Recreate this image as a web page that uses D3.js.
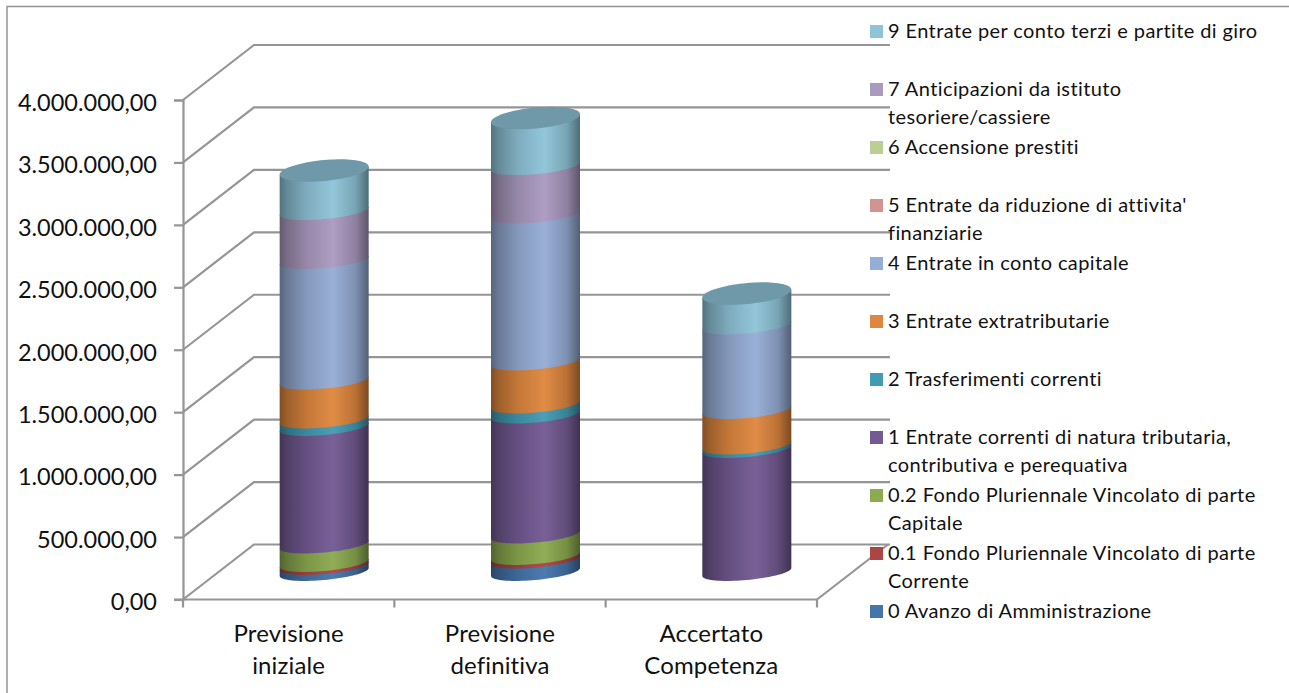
<!DOCTYPE html>
<html>
<head>
<meta charset="utf-8">
<script src="https://cdn.jsdelivr.net/npm/d3@7"></script>
<style>
  html, body { margin: 0; padding: 0; background: #fff; }
  svg { display: block; }
  text { font-family: Lato, "Noto Sans", sans-serif; fill: #111; }
</style>
</head>
<body>
<div id="vis1"></div>
<script>
// frame dimensions
const FRAME_WIDTH = 1289;
const FRAME_HEIGHT = 693;

// front plane of the chart and the depth of the 3d box
const PLOT = {left: 183, right: 817, top: 100, bottom: 599.5};
const DEPTH = {x: 71, y: -55};

// cylinder shape
const RX = 44.5;
const RING_RY = 8;
const CAP_RY = 10.5;
const TILT = 4;

const GRID_COLOR = "#959595";
const CAP_COLOR = "#6f98a8";

// categories
const categories = ["Previsione iniziale", "Previsione definitiva", "Accertato Competenza"];
const categoryLines = [["Previsione", "iniziale"], ["Previsione", "definitiva"], ["Accertato", "Competenza"]];

// series values, one entry per category
const avanzo = [48000, 100000, 0];
const fpvCorrente = [24000, 28000, 0];
const fpvCapitale = [148000, 172000, 0];
const tributarie = [941000, 961000, 985000];
const trasferimenti = [60000, 80000, 28000];
const extratributarie = [312000, 345000, 284000];
const contoCapitale = [965000, 1177000, 677000];
const riduzione = [0, 0, 0];
const prestiti = [0, 0, 0];
const anticipazioni = [392000, 387000, 0];
const contoTerzi = [325000, 385000, 256000];

const seriesValues = [avanzo, fpvCorrente, fpvCapitale, tributarie, trasferimenti,
  extratributarie, contoCapitale, riduzione, prestiti, anticipazioni, contoTerzi];

const seriesColors = ["#4675ac", "#ab4644", "#8caa50", "#735a93", "#439bb3", "#df873f",
  "#96add5", "#d39391", "#b9cf95", "#ab9ac0", "#8fc4d8"];

// legend text, bottom series first
const legendLines = [
  ["0 Avanzo di Amministrazione"],
  ["0.1 Fondo Pluriennale Vincolato di parte", "Corrente"],
  ["0.2 Fondo Pluriennale Vincolato di parte", "Capitale"],
  ["1 Entrate correnti di natura tributaria,", "contributiva e perequativa"],
  ["2 Trasferimenti correnti"],
  ["3 Entrate extratributarie"],
  ["4 Entrate in conto capitale"],
  ["5 Entrate da riduzione di attivita'", "finanziarie"],
  ["6 Accensione prestiti"],
  ["7 Anticipazioni da istituto", "tesoriere/cassiere"],
  ["9 Entrate per conto terzi e partite di giro"]
];

const tickValues = [0, 500000, 1000000, 1500000, 2000000, 2500000, 3000000, 3500000, 4000000];

const FRAME1 = d3.select("#vis1")
  .append("svg")
    .attr("width", FRAME_WIDTH)
    .attr("height", FRAME_HEIGHT);

// scales
const X_SCALE = d3.scaleBand()
  .domain(categories)
  .range([PLOT.left, PLOT.right]);

const Y_SCALE = d3.scaleLinear()
  .domain([0, 4000000])
  .range([PLOT.bottom, PLOT.top]);

// outer frame, only the top and left edges show
FRAME1.append("path")
  .attr("d", "M7,693V6.5H1289")
  .attr("fill", "none")
  .attr("stroke", GRID_COLOR)
  .attr("stroke-width", 1.5);

// side wall and back wall gridlines
FRAME1.selectAll(".grid")
  .data(tickValues)
  .enter()
  .append("path")
    .attr("class", "grid")
    .attr("d", (d) => {
      const y = Y_SCALE(d);
      return d3.line()([[PLOT.left, y], [PLOT.left + DEPTH.x, y + DEPTH.y], [890, y + DEPTH.y]]);
    })
    .attr("fill", "none")
    .attr("stroke", GRID_COLOR)
    .attr("stroke-width", 2.2);

// right edge of the floor
FRAME1.append("path")
  .attr("d", d3.line()([[PLOT.right, PLOT.bottom], [PLOT.right + DEPTH.x, PLOT.bottom + DEPTH.y]]))
  .attr("stroke", GRID_COLOR)
  .attr("stroke-width", 2.2);

// value axis
const fmt = d3.formatLocale({decimal: ",", thousands: ".", grouping: [3], currency: ["", "€"]}).format(",.2f");

const yAxis = FRAME1.append("g")
  .attr("transform", "translate(" + PLOT.left + ",0)")
  .call(d3.axisLeft(Y_SCALE).tickValues(tickValues).tickFormat(fmt).tickSize(9).tickPadding(17));
yAxis.selectAll("path, line").attr("stroke", GRID_COLOR).attr("stroke-width", 2.2);
yAxis.selectAll("text").attr("font-size", 23.5).attr("font-family", "Lato").attr("dy", "0.44em");

// category axis, ticks sit on the band edges
FRAME1.append("line")
  .attr("x1", PLOT.left - 9).attr("x2", PLOT.right)
  .attr("y1", PLOT.bottom).attr("y2", PLOT.bottom)
  .attr("stroke", GRID_COLOR).attr("stroke-width", 2.2);

FRAME1.selectAll(".xtick")
  .data(categories.map((c) => X_SCALE(c)).concat([PLOT.right]))
  .enter()
  .append("line")
    .attr("class", "xtick")
    .attr("x1", (d) => d).attr("x2", (d) => d)
    .attr("y1", PLOT.bottom).attr("y2", PLOT.bottom + 8)
    .attr("stroke", GRID_COLOR).attr("stroke-width", 2.2);

const catLabels = FRAME1.selectAll(".cat")
  .data(categories)
  .enter()
  .append("text")
    .attr("class", "cat")
    .attr("text-anchor", "middle")
    .attr("font-size", 24)
    .attr("letter-spacing", 0.15);

catLabels.selectAll("tspan")
  .data((d, i) => categoryLines[i].map((line) => ({line: line, x: X_SCALE(d) + X_SCALE.bandwidth() / 2})))
  .enter()
  .append("tspan")
    .attr("x", (d) => d.x)
    .attr("y", (d, i) => 642 + i * 32)
    .text((d) => d.line);

// horizontal shading for the cylinder walls
const defs = FRAME1.append("defs");
const shadeStops = [[0, 0.42], [0.08, 0.3], [0.3, 0.12], [0.6, -0.04], [0.85, 0.16], [1, 0.45]];

seriesColors.forEach((color, i) => {
  defs.append("linearGradient")
    .attr("id", "wall" + i)
    .selectAll("stop")
    .data(shadeStops)
    .enter()
    .append("stop")
      .attr("offset", (d) => d[0])
      .attr("stop-color", (d) => d[1] < 0
        ? d3.interpolateRgb(color, "#fff")(-d[1])
        : d3.interpolateRgb(color, "#000")(d[1]));
});

// stacked values
const table = categories.map((c, i) => {
  const row = {category: c};
  seriesValues.forEach((values, s) => { row[s] = values[i]; });
  return row;
});
const stacked = d3.stack().keys(d3.range(seriesValues.length))(table);

// centre of the cylinder at a given category and value
const centerX = (c) => X_SCALE(c) + X_SCALE.bandwidth() / 2 + DEPTH.x / 2;
const centerY = (v) => Y_SCALE(v) + DEPTH.y / 2;

// lower half of the tilted ring, left to right
const ARC_STEPS = d3.range(0, 41).map((i) => Math.PI * (1 - i / 40));
const frontArc = (cx, cy, ry) => ARC_STEPS.map((t) => [
  cx + RX * Math.cos(t),
  cy - TILT * Math.cos(t) + ry * Math.sin(t)
]);

// bands are painted bottom up, each one covers the chord of the band below it
const bars = FRAME1.selectAll(".bar")
  .data(categories)
  .enter()
  .append("g")
    .attr("class", "bar");

bars.each(function (c, ci) {
  const bar = d3.select(this);
  const cx = centerX(c);
  stacked.forEach((layer, s) => {
    const d = layer[ci];
    if (d[1] - d[0] <= 0) { return; }
    const lower = frontArc(cx, centerY(d[0]), RING_RY);
    const top = centerY(d[1]);
    const outline = lower.concat([[cx + RX, top - TILT], [cx - RX, top + TILT]]);
    bar.append("path")
      .attr("d", d3.line()(outline) + "Z")
      .attr("fill", "url(#wall" + s + ")");
  });
  // top cap
  const total = d3.sum(seriesValues, (values) => values[ci]);
  const capY = centerY(total);
  const front = frontArc(cx, capY, CAP_RY);
  const back = front.map((p) => [2 * cx - p[0], 2 * capY - p[1]]);
  bar.append("path")
    .attr("d", d3.line()(front.concat(back)) + "Z")
    .attr("fill", CAP_COLOR);
});

// legend, last series on top
const legend = FRAME1.selectAll(".legend")
  .data(seriesColors.map((color, i) => ({color: color, lines: legendLines[i], row: seriesColors.length - 1 - i})))
  .enter()
  .append("g")
    .attr("class", "legend")
    .attr("transform", (d) => "translate(870," + (25 + d.row * 58) + ")");

legend.append("rect")
  .attr("width", 13)
  .attr("height", 13)
  .attr("fill", (d) => d.color);

legend.selectAll("text")
  .data((d) => d.lines)
  .enter()
  .append("text")
    .attr("x", 18)
    .attr("y", (d, i) => 13 + i * 28)
    .attr("font-size", 20)
    .attr("letter-spacing", 0.4)
    .text((d) => d);
</script>
</body>
</html>
